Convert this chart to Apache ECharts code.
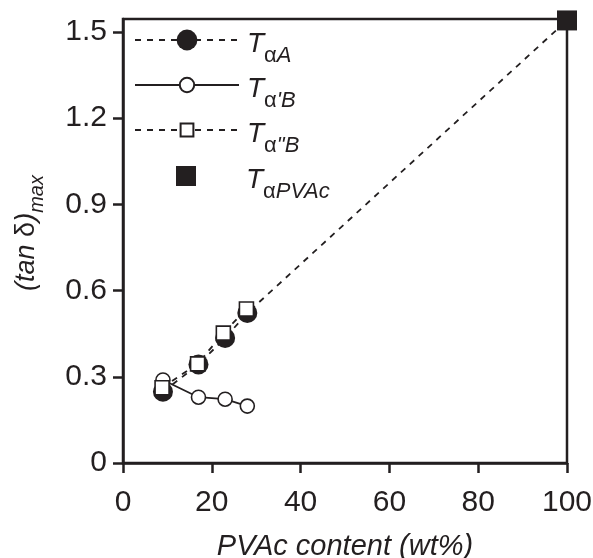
<!DOCTYPE html>
<html><head><meta charset="utf-8">
<script src="https://cdn.jsdelivr.net/npm/echarts@6/dist/echarts.min.js"></script>
<style>html,body{margin:0;padding:0;background:#fff}#c{width:593px;height:558px}</style>
</head><body><div id="c"></div>
<script>
// ---- data ----
const contentA = [9, 17, 23, 28];
const tanA = [0.248, 0.343, 0.435, 0.522];
const contentB1 = [9, 17, 23, 28];
const tanB1 = [0.289, 0.229, 0.222, 0.198];
const contentB2 = [8.8, 16.8, 22.6, 27.8];
const tanB2 = [0.262, 0.345, 0.452, 0.536];
const contentPVAc = [100];
const tanPVAc = [1.54];
const yTickValues = [0, 0.3, 0.6, 0.9, 1.2, 1.5];
const xTickValues = [0, 20, 40, 60, 80, 100];
const seriesNames = ['TαA', "Tα'B", 'Tα"B', 'TαPVAc'];
const legendSubs = ['A', "'B", '"B', 'PVAc'];

const INK = '#231f20';
const FONT = 'Liberation Sans, Arial, Helvetica, sans-serif';

const pairs = (xs, ys) => xs.map((x, i) => [x, ys[i]]);
const dataA = pairs(contentA, tanA).concat([{ value: [contentPVAc[0], tanPVAc[0]], symbol: 'none' }]);

const legendRich = {
  t: { fontFamily: FONT, fontSize: 28, fontStyle: 'italic', color: INK, lineHeight: 30, padding: [5, 0, 0, 3], verticalAlign: 'top' },
  a: { fontFamily: FONT, fontSize: 22, color: INK, lineHeight: 22, padding: [20, 0, 0, 0], verticalAlign: 'top' },
  s: { fontFamily: FONT, fontSize: 22, fontStyle: 'italic', color: INK, lineHeight: 22, padding: [20, 0, 0, 0], verticalAlign: 'top' }
};
const legendCenters = [40, 85, 130, 176];
const legendItemHeights = [26, 18, 16, 25];
const legends = seriesNames.map((n, i) => ({
  data: [n],
  left: 134,
  top: legendCenters[i] - 15,
  padding: 0,
  itemWidth: 104,
  itemHeight: legendItemHeights[i],
  selectedMode: false,
  formatter: () => '{t|T}{a|α}{s|' + legendSubs[i] + '}',
  textStyle: { rich: legendRich }
}));

const chart = echarts.init(document.getElementById('c'), null, { renderer: 'canvas' });
chart.setOption({
  animation: false,
  backgroundColor: '#fff',
  grid: { left: 123, right: 26, top: 19, bottom: 95, containLabel: false, outerBoundsMode: 'none',
    show: true, borderColor: INK, borderWidth: 2.5, backgroundColor: 'transparent' },
  legend: legends,
  xAxis: {
    type: 'value', min: 0, max: 100, interval: 20,
    name: 'PVAc content (wt%)', nameLocation: 'middle', nameGap: 69,
    nameTextStyle: { fontFamily: FONT, fontSize: 29, fontStyle: 'italic', color: INK },
    axisLine: { show: true, onZero: false, lineStyle: { color: INK, width: 2.5 } },
    axisTick: { show: true, length: 10, lineStyle: { color: INK, width: 2.5 }, customValues: xTickValues },
    axisLabel: { margin: 25, fontFamily: FONT, fontSize: 30, color: INK, customValues: xTickValues },
    splitLine: { show: false }
  },
  yAxis: {
    type: 'value', min: 0, max: 1.545,
    name: '{p|(tan }{d|δ}{p|)}{m|max}', nameLocation: 'middle', nameGap: 80,
    nameTextStyle: {
      padding: [0, 0, 0, 16],
      rich: {
        p: { fontFamily: FONT, fontSize: 27, fontStyle: 'italic', color: INK, lineHeight: 30, verticalAlign: 'top' },
        d: { fontFamily: FONT, fontSize: 27, color: INK, lineHeight: 30, verticalAlign: 'top' },
        m: { fontFamily: FONT, fontSize: 20, fontStyle: 'italic', color: INK, lineHeight: 22, padding: [14, 0, 0, 0], verticalAlign: 'top' }
      }
    },
    axisLine: { show: true, onZero: false, lineStyle: { color: INK, width: 2.5 } },
    axisTick: { show: true, length: 10, lineStyle: { color: INK, width: 2.5 }, customValues: yTickValues },
    axisLabel: { margin: 16, fontFamily: FONT, fontSize: 30, color: INK, padding: [0, 0, 8, 0], customValues: yTickValues,
      formatter: v => (v === 0 ? '0' : v.toFixed(1)) },
    splitLine: { show: false }
  },
  series: [
    {
      name: seriesNames[0], type: 'line', data: dataA, clip: false,
      symbol: 'circle', symbolSize: 20,
      itemStyle: { color: INK, borderColor: INK, borderWidth: 0 },
      lineStyle: { color: INK, width: 1.8, type: [6, 6] }
    },
    {
      name: seriesNames[1], type: 'line', data: pairs(contentB1, tanB1), clip: false,
      symbol: 'circle', symbolSize: 14,
      itemStyle: { color: '#fff', borderColor: INK, borderWidth: 1.6 },
      lineStyle: { color: INK, width: 1.8, type: 'solid' }
    },
    {
      name: seriesNames[2], type: 'line', data: pairs(contentB2, tanB2), clip: false,
      symbol: 'rect', symbolSize: 14,
      itemStyle: { color: '#fff', borderColor: INK, borderWidth: 1.6 },
      lineStyle: { color: INK, width: 1.8, type: [6, 6] }
    },
    {
      name: seriesNames[3], type: 'line', data: pairs(contentPVAc, tanPVAc), clip: false,
      symbol: 'rect', symbolSize: 20,
      itemStyle: { color: INK, borderWidth: 0 },
      lineStyle: { color: INK, width: 0, opacity: 0 }
    }
  ]
});
</script>
</body></html>
